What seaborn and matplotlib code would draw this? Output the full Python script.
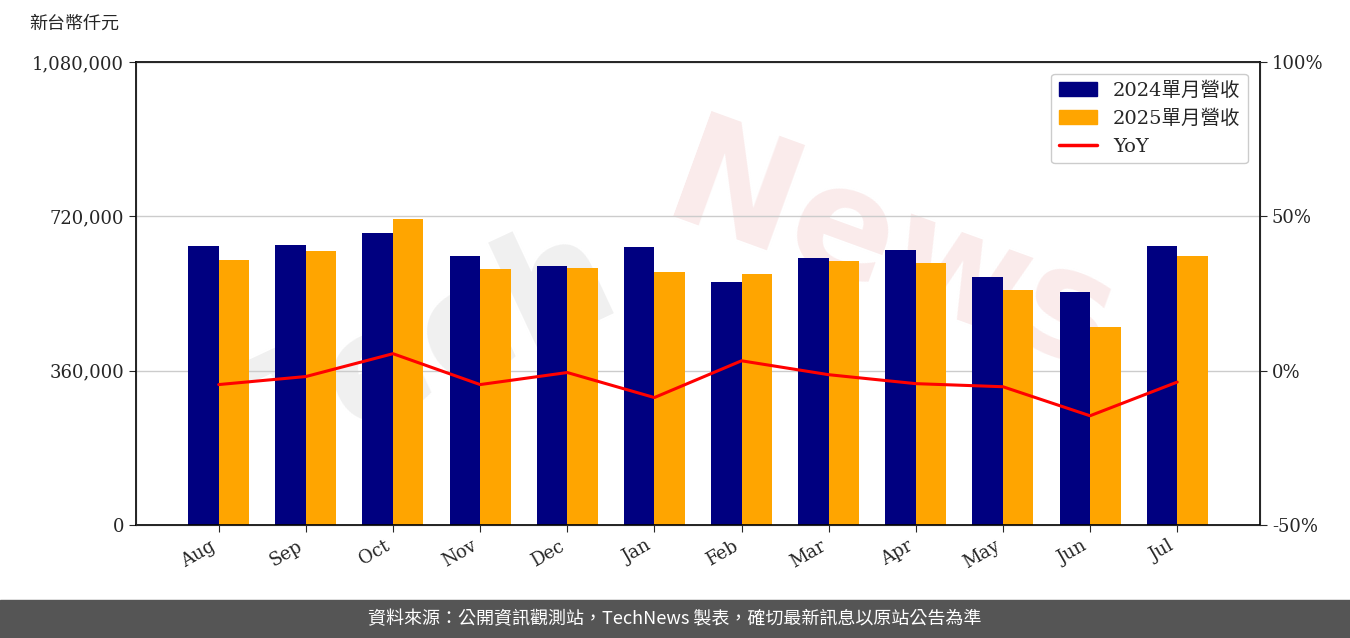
import matplotlib
matplotlib.use("Agg")
import matplotlib.pyplot as plt
import seaborn as sns
import pandas as pd
import numpy as np
from matplotlib.lines import Line2D
from matplotlib.patches import Patch
from matplotlib.ticker import FuncFormatter

sns.set_style("white")
plt.rcParams['font.family'] = ['DejaVu Serif', 'Noto Sans CJK TC']

months = ["Aug","Sep","Oct","Nov","Dec","Jan","Feb","Mar","Apr","May","Jun","Jul"]
rev_2024 = [651000,653000,681000,627000,604000,648000,567000,623000,641000,578000,543000,651000]
rev_2025 = [618000,639000,714000,597000,599000,590000,585000,616000,611000,548000,462000,627000]
yoy = [-4.5,-1.9,5.5,-4.5,-0.6,-8.7,3.2,-1.3,-4.2,-5.2,-14.6,-3.7]
s24, s25 = "2024單月營收", "2025單月營收"

df = pd.DataFrame({"month": months*2, "rev": rev_2024+rev_2025,
                   "series": [s24]*12+[s25]*12})

fig = plt.figure(figsize=(13.5,6.38), dpi=100)
ax = fig.add_axes([0.1007,0.177,0.8326,0.726])
ax.patch.set_alpha(0)
sns.barplot(data=df, x="month", y="rev", hue="series", order=months,
            palette={s24:"#000080", s25:"#FFA500"}, width=0.7, ax=ax,
            legend=False, saturation=1, linewidth=0)
ax.set_ylim(0,1080000)
ax.set_yticks([0,360000,720000,1080000])
ax.yaxis.set_major_formatter(FuncFormatter(lambda v,p: f"{int(v):,}"))
ax.grid(axis='y', color='#cccccc', lw=1)
ax.set_axisbelow(True)
ax.set_xlabel(""); ax.set_ylabel("")
ax.set_xlim(-0.95, 11.95)
for lab in ax.get_xticklabels():
    lab.set_rotation(30); lab.set_ha('right')
ax.tick_params(labelsize=13, direction='out', length=5, left=True, bottom=True)
for s in ax.spines.values():
    s.set_color('black'); s.set_linewidth(1.2)

ax2 = ax.twinx()
sns.lineplot(x=np.arange(len(months)), y=yoy, color='red', lw=2.2, ax=ax2)
ax2.set_ylim(-50,100)
ax2.set_yticks([-50,0,50,100])
ax2.yaxis.set_major_formatter(FuncFormatter(lambda v,p: f"{int(v)}%"))
ax2.tick_params(labelsize=13, direction='out', length=5, right=True)
ax2.set_xlim(-0.95, 11.95)

handles = [Patch(color="#000080", label=s24), Patch(color="#FFA500", label=s25),
           Line2D([],[],color='red',lw=2.5,label="YoY")]
ax2.legend(handles=handles, loc='upper right', fontsize=14, framealpha=1,
           edgecolor='#cccccc', fancybox=True, borderaxespad=0.6)

fig.text(0.022, 0.955, "新台幣仟元", fontsize=13, family=['Noto Sans CJK TC'])
fig.text(0.32, 0.45, "Tech", fontsize=110, color='#e6e6e6', alpha=0.6,
         rotation=25, ha='center', va='center', zorder=-5, fontweight='bold',
         family=['DejaVu Sans'])
fig.text(0.66, 0.6, "News", fontsize=110, color='#f7dede', alpha=0.6,
         rotation=-20, ha='center', va='center', zorder=-5, fontweight='bold',
         family=['DejaVu Sans'])
fig.patches.append(plt.Rectangle((0,0),1,0.06,transform=fig.transFigure,
                                 color='#555555', zorder=0))
fig.text(0.5, 0.03, "資料來源：公開資訊觀測站，TechNews 製表，確切最新訊息以原站公告為準",
         color='white', fontsize=13, ha='center', va='center',
         family=['Noto Sans CJK TC'])
fig.savefig("out.png", dpi=100)
